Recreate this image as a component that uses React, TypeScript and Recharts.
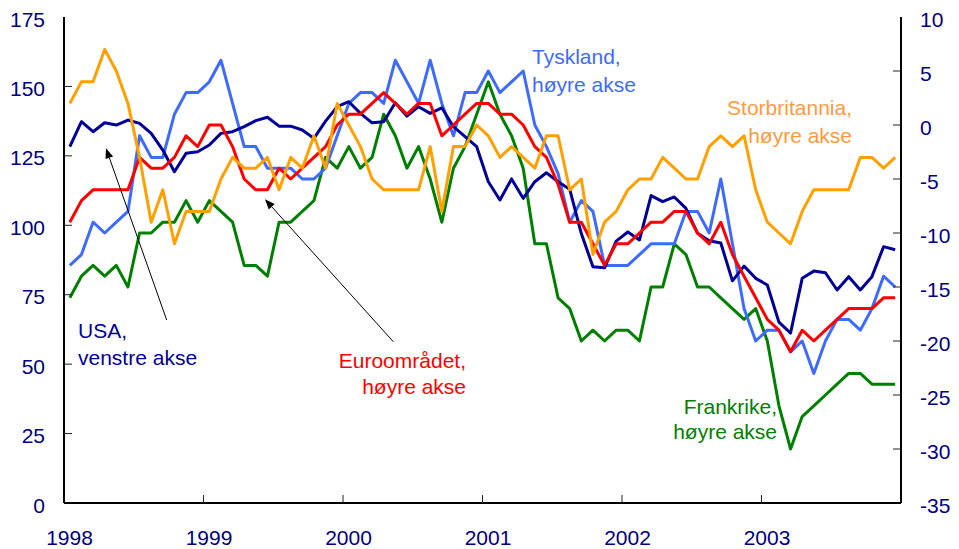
import React from 'react';
import { LineChart, Line, XAxis, YAxis } from 'recharts';

const W = 959;
const H = 549;
const FONT = '"Liberation Sans", Arial, Helvetica, sans-serif';
const AXIS_TEXT = '#000080';

// Monthly observations, Jan 1998 - Dec 2003
const months: string[] = [];
for (let y = 1998; y <= 2003; y++) {
  for (let m = 1; m <= 12; m++) months.push(`${y}-${String(m).padStart(2, '0')}`);
}

const yearLabels = ['1998', '1999', '2000', '2001', '2002', '2003'];
const yearTicks = [0, 12, 24, 36, 48, 60];
const leftTicks = [0, 25, 50, 75, 100, 125, 150, 175];
const rightTicks = [-35, -30, -25, -20, -15, -10, -5, 0, 5, 10];

// USA, left axis
const usa = [
  128.3, 137.3, 133.7, 136.9, 136.1, 137.9, 136.7, 133.1, 127.1, 119.3,
  125.9, 126.5, 128.9, 133.1, 133.7, 135.5, 137.7, 138.9, 135.7, 135.7,
  134.3, 131.3, 137.5, 142.7, 144.5, 140.3, 136.9, 137.3, 144.1, 139.3,
  142.7, 140.3, 142.3, 135.5, 131.9, 128.3, 115.7, 109.1, 116.7, 109.7,
  115.7, 118.9, 115.7, 113.0, 97.0, 85.1, 84.7, 94.3, 97.6, 94.7,
  110.7, 108.5, 110.2, 106.1, 97.1, 94.4, 93.6, 80.0, 85.3, 80.9,
  78.5, 65.1, 61.2, 80.9, 83.5, 82.9, 76.7, 81.5, 76.7, 81.5,
  92.3, 91.2,
];

// Euroområdet, right axis
const euro = [
  -9, -7, -6, -6, -6, -6, -3, -4, -4, -3,
  -1, -2, 0, 0, -2, -5, -6, -6, -4, -5,
  -4, -3, -2, 0, 1, 1, 2, 3, 2, 1,
  2, 2, -1, 0, 1, 2, 2, 1, 1, 0,
  -2, -3, -5.5, -9, -9, -11, -13, -11, -11, -10,
  -9, -9, -8, -8, -10, -11, -9, -12, -14, -16,
  -18, -19, -21, -19, -20, -19, -18, -17, -17, -17,
  -16, -16,
];

// Tyskland, right axis
const tyskland = [
  -13, -12, -9, -10, -9, -8, -1, -3, -3, 1,
  3, 3, 4, 6, 2, -2, -2, -4, -4, -4,
  -5, -5, -4, -1, 2, 3, 3, 2, 6, 4,
  2, 6, 2, -1, 3, 3, 5, 3, 4, 5,
  0, -2, -4.5, -9, -7, -8, -13, -13, -13, -12,
  -11, -11, -11, -8, -8, -10, -5, -11, -17, -20,
  -19, -19, -21, -20, -23, -20, -18, -18, -19, -17,
  -14, -15,
];

// Storbritannia, right axis
const storbritannia = [
  2, 4, 4, 7, 5, 2, -3, -9, -6, -11,
  -8, -8, -8, -5, -3, -4, -4, -3, -6, -3,
  -4, -1, -4, 2, 0, -2, -5, -6, -6, -6,
  -6, -2, -8, -2, -2, 0, -1, -3, -2, -3,
  -4, -1, -1, -6, -5, -12, -9, -8, -6, -5,
  -5, -3, -4, -5, -5, -2, -1, -2, -1, -6,
  -9, -10, -11, -8, -6, -6, -6, -6, -3, -3,
  -4, -3,
];

// Frankrike, right axis
const frankrike = [
  -16, -14, -13, -14, -13, -15, -10, -10, -9, -9,
  -7, -9, -7, -8, -9, -13, -13, -14, -9, -9,
  -8, -7, -3, -4, -2, -4, -3, 1, -1, -4,
  -2, -5, -9, -4, -2, 1, 4, 1, -1, -4,
  -11, -11, -16, -17, -20, -19, -20, -19, -19, -20,
  -15, -15, -11, -12, -15, -15, -16, -17, -18, -17,
  -20, -26, -30, -27, -26, -25, -24, -23, -23, -24,
  -24, -24,
];

const data = months.map((m, i) => ({
  month: m,
  t: i + 0.5,
  usa: usa[i],
  euro: euro[i],
  tyskland: tyskland[i],
  storbritannia: storbritannia[i],
  frankrike: frankrike[i],
}));

const COL = {
  usa: '#000099',
  euro: '#FF0000',
  tyskland: '#3D6BFF',
  storbritannia: '#FFA000',
  storbritanniaText: '#FF9A3C',
  frankrike: '#008000',
};

const LeftTick = (props: any) => {
  const { x, y, payload } = props;
  const v = payload.value;
  return (
    <g>
      {v !== 0 && v !== 175 ? <line x1={x} x2={x + 8} y1={y} y2={y} stroke="#222" strokeWidth={1} /> : null}
      <text x={x - 19} y={y + 9.5} textAnchor="end" fill={AXIS_TEXT} fontSize={21} fontFamily={FONT}>
        {v}
      </text>
    </g>
  );
};

const RightTick = (props: any) => {
  const { x, y, payload } = props;
  const v = payload.value;
  return (
    <g>
      {v !== -35 && v !== 10 ? <line x1={x - 8} x2={x} y1={y} y2={y} stroke="#222" strokeWidth={1} /> : null}
      <text x={x + 19} y={y + 9.5} textAnchor="start" fill={AXIS_TEXT} fontSize={21} fontFamily={FONT}>
        {v}
      </text>
    </g>
  );
};

const BottomTick = (props: any) => {
  const { x, y, payload, index } = props;
  const label = yearLabels[yearTicks.indexOf(payload.value)] ?? '';
  return (
    <g>
      {payload.value !== 0 ? <line x1={x} x2={x} y1={y - 8} y2={y} stroke="#222" strokeWidth={1} /> : null}
      <text x={x + 5.5} y={y + 42} textAnchor="middle" fill={AXIS_TEXT} fontSize={21} fontFamily={FONT}>
        {label}
      </text>
    </g>
  );
};

function arrow(x1: number, y1: number, x2: number, y2: number, key: string) {
  const dx = x2 - x1;
  const dy = y2 - y1;
  const len = Math.sqrt(dx * dx + dy * dy);
  const ux = dx / len;
  const uy = dy / len;
  const hl = 10;
  const hw = 4;
  const bx = x2 - hl * ux;
  const by = y2 - hl * uy;
  const px = -uy;
  const py = ux;
  const pts = `${x2},${y2} ${bx + hw * px},${by + hw * py} ${bx - hw * px},${by - hw * py}`;
  return (
    <g key={key}>
      <line x1={x1} y1={y1} x2={bx} y2={by} stroke="#000" strokeWidth={1} />
      <polygon points={pts} fill="#000" />
    </g>
  );
}

const TwoLine = ({ x, y1, y2, anchor, color, l1, l2 }: any) => (
  <text textAnchor={anchor} fill={color} fontSize={21} fontFamily={FONT}>
    <tspan x={x} y={y1}>{l1}</tspan>
    <tspan x={x} y={y2}>{l2}</tspan>
  </text>
);

export default function App() {
  return (
    <div style={{ position: 'absolute', left: 0, top: 0, width: W, height: H, background: '#fff' }}>
      <LineChart
        width={W}
        height={H}
        data={data}
        margin={{ top: 17, right: 0, bottom: 0, left: 0 }}
      >
        <XAxis
          xAxisId="top"
          orientation="top"
          dataKey="t"
          type="number"
          domain={[0, 72]}
          height={0}
          tick={false}
          tickLine={false}
          axisLine={{ stroke: '#808080', strokeWidth: 2 }}
        />
        <XAxis
          dataKey="t"
          type="number"
          domain={[0, 72]}
          ticks={yearTicks}
          interval={0}
          height={46}
          tickSize={0}
          tickMargin={0}
          tickLine={false}
          tick={<BottomTick />}
          axisLine={{ stroke: '#000', strokeWidth: 2 }}
        />
        <YAxis
          yAxisId="left"
          orientation="left"
          domain={[0, 175]}
          ticks={leftTicks}
          interval={0}
          width={64}
          tickSize={0}
          tickMargin={0}
          tickLine={false}
          tick={<LeftTick />}
          axisLine={{ stroke: '#000', strokeWidth: 2 }}
        />
        <YAxis
          yAxisId="right"
          orientation="right"
          domain={[-35, 10]}
          ticks={rightTicks}
          interval={0}
          width={58}
          tickSize={0}
          tickMargin={0}
          tickLine={false}
          tick={<RightTick />}
          axisLine={{ stroke: '#000', strokeWidth: 2 }}
        />
        <Line yAxisId="right" dataKey="frankrike" type="linear" stroke={COL.frankrike} strokeWidth={3} dot={false} isAnimationActive={false} strokeLinejoin="round" />
        <Line yAxisId="right" dataKey="tyskland" type="linear" stroke={COL.tyskland} strokeWidth={3} dot={false} isAnimationActive={false} strokeLinejoin="round" />
        <Line yAxisId="left" dataKey="usa" type="linear" stroke={COL.usa} strokeWidth={3} dot={false} isAnimationActive={false} strokeLinejoin="round" />
        <Line yAxisId="right" dataKey="euro" type="linear" stroke={COL.euro} strokeWidth={3} dot={false} isAnimationActive={false} strokeLinejoin="round" />
        <Line yAxisId="right" dataKey="storbritannia" type="linear" stroke={COL.storbritannia} strokeWidth={3} dot={false} isAnimationActive={false} strokeLinejoin="round" />
      </LineChart>
      <svg
        width={W}
        height={H}
        style={{ position: 'absolute', left: 0, top: 0, pointerEvents: 'none' }}
      >
        <TwoLine x={532} y1={64} y2={91.5} anchor="start" color={COL.tyskland} l1="Tyskland," l2="høyre akse" />
        <TwoLine x={852} y1={115} y2={142.5} anchor="end" color={COL.storbritanniaText} l1="Storbritannia," l2="høyre akse" />
        <TwoLine x={466} y1={367.5} y2={393.5} anchor="end" color={COL.euro} l1="Euroområdet," l2="høyre akse" />
        <TwoLine x={777} y1={413.5} y2={438.5} anchor="end" color={COL.frankrike} l1="Frankrike," l2="høyre akse" />
        <TwoLine x={78} y1={338} y2={365} anchor="start" color={COL.usa} l1="USA," l2="venstre akse" />
        {arrow(166.7, 320, 106, 148.3, 'a1')}
        {arrow(393.3, 341.7, 265, 199.3, 'a2')}
      </svg>
    </div>
  );
}
